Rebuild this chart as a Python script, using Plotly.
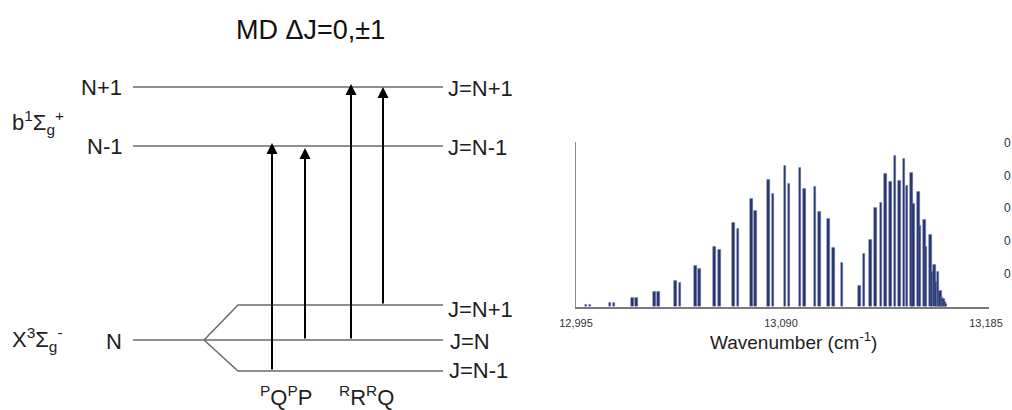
import plotly.graph_objects as go

# ---------------- spectrum data ----------------
# lower-frequency band: doublets (wavenumber cm-1, relative intensity)
p_band_pos_a = [12999.6, 13010.8, 13021.1, 13031.3, 13041.0, 13050.3, 13059.3,
                13068.1, 13076.2, 13084.3, 13091.9, 13098.8, 13105.8, 13112.1, 13118.3]
p_band_int_a = [0.07, 0.13, 0.27, 0.46, 0.78, 1.24, 1.82,
                2.56, 3.29, 3.87, 4.30, 4.26, 3.67, 2.68, 1.34]
p_band_pos_b = [13001.5, 13012.6, 13023.1, 13033.3, 13043.1, 13052.3, 13061.4,
                13070.1, 13078.3, 13086.3, 13093.7, 13101.0, 13107.9, 13114.4]
p_band_int_b = [0.07, 0.13, 0.27, 0.44, 0.73, 1.17, 1.73,
                2.37, 2.92, 3.45, 3.77, 3.59, 2.91, 1.79]

# higher-frequency band up to the band head
r_band_pos = [13126.5, 13128.5, 13131.6, 13133.7, 13136.3, 13138.3, 13140.7,
              13142.8, 13144.8, 13147.0, 13148.3, 13150.6, 13151.3, 13153.8,
              13154.4, 13156.6, 13157.2, 13159.2, 13160.0, 13161.1, 13161.9,
              13162.8, 13163.4, 13164.0, 13164.6, 13165.2, 13165.9, 13166.5]
r_band_int = [0.64, 1.63, 2.03, 3.01, 3.17, 4.07, 3.83,
              4.62, 3.85, 4.51, 3.70, 4.09, 3.14, 3.51,
              2.48, 2.67, 1.83, 2.20, 1.05, 1.28, 0.76,
              1.06, 0.46, 0.49, 0.28, 0.24, 0.15, 0.08]

x_tick_vals = [12995, 13090, 13185]
x_tick_text = ["12,995", "13,090", "13,185"]
right_tick_vals = [1, 2, 3, 4, 5]
right_tick_text = ["0", "0", "0", "0", "0"]

# ---------------- energy-level diagram (pixel-like units) ----------------
W, H = 1012, 410
LINE_X0, LINE_X1 = 133, 443
UPPER_LEVELS = [("N+1", "J=N+1", 87), ("N-1", "J=N-1", 146)]
LOWER_N_Y = 340
LOWER_PLUS_Y = 305
LOWER_MINUS_Y = 371
FORK_X, FORK_END_X = 204, 238
# transitions: (x, lower y, upper tip y)
transitions = [(272, LOWER_MINUS_Y, 143), (305, LOWER_N_Y, 148),
               (351, LOWER_N_Y, 84), (383, LOWER_PLUS_Y, 87)]

FONT = "Liberation Sans, Arial, Helvetica, sans-serif"
TXT = "#1e1e1e"
LEVEL_COLOR = "#6a6a6a"
BAR_COLOR = "#28366f"

fig = go.Figure()

all_pos = p_band_pos_a + p_band_pos_b + r_band_pos
all_int = p_band_int_a + p_band_int_b + r_band_int
fig.add_trace(go.Bar(
    x=all_pos, y=all_int, width=1.2,
    marker=dict(color=BAR_COLOR, line=dict(color="rgba(110,122,175,0.7)", width=0.6)),
    xaxis="x2", yaxis="y2", showlegend=False, hoverinfo="x+y",
))

shapes = []
for _, _, y in UPPER_LEVELS:
    shapes.append(dict(type="line", xref="x", yref="y", x0=LINE_X0, x1=LINE_X1,
                       y0=y, y1=y, line=dict(color=LEVEL_COLOR, width=1.5)))
shapes.append(dict(type="line", xref="x", yref="y", x0=LINE_X0, x1=LINE_X1,
                   y0=LOWER_N_Y, y1=LOWER_N_Y, line=dict(color=LEVEL_COLOR, width=1.5)))
for yb in (LOWER_PLUS_Y, LOWER_MINUS_Y):
    shapes.append(dict(type="path", xref="x", yref="y",
                       path=f"M {FORK_X},{LOWER_N_Y} L {FORK_END_X},{yb} L {LINE_X1},{yb}",
                       line=dict(color=LEVEL_COLOR, width=1.5)))

ann = []
for x, y0, y1 in transitions:
    ann.append(dict(x=x, y=y1, ax=x, ay=y0, xref="x", yref="y", axref="x", ayref="y",
                    text="", showarrow=True, arrowhead=2, arrowsize=1.1, arrowwidth=2,
                    arrowcolor="#000000", standoff=0, startstandoff=0))

def label(x, y, text, size=22, anchor="left", color=TXT):
    ann.append(dict(x=x, y=y, xref="x", yref="y", text=text, showarrow=False,
                    xanchor=anchor, yanchor="middle",
                    font=dict(family=FONT, size=size, color=color)))

label(310, 30, "MD ΔJ=0,±1", size=27, anchor="center", color="#111111")
for name, jname, y in UPPER_LEVELS:
    label(124, y, name, anchor="right")
    label(446, y + 1, jname)
label(124, 341, "N", anchor="right")
label(10, 122, "b<sup>1</sup>Σ<sub>g</sub><sup>+</sup>")
label(10, 339, "X<sup>3</sup>Σ<sub>g</sub><sup>-</sup>")
label(446, 309, "J=N+1")
label(448, 341, "J=N")
label(447, 370, "J=N-1")
label(286, 396, "<sup>P</sup>Q<sup>P</sup>P", anchor="center")
label(366, 396, "<sup>R</sup>R<sup>R</sup>Q", anchor="center")

# spectrum axis title and right-hand tick labels
ann.append(dict(x=793 / W, y=1 - 341 / H, xref="paper", yref="paper",
                text="Wavenumber (cm<sup>-1</sup>)", showarrow=False,
                xanchor="center", yanchor="middle",
                font=dict(family=FONT, size=19, color=TXT)))
for v, t in zip(right_tick_vals, right_tick_text):
    ann.append(dict(x=1002 / W, y=v, xref="paper", yref="y2", text=t,
                    showarrow=False, xanchor="left", yanchor="middle",
                    font=dict(family=FONT, size=12, color="#333333")))

x_lo, x_hi = 12995, 13186.5
px_per_unit = 205 / 95
x_left_px = 576
x_right_px = x_left_px + (x_hi - x_lo) * px_per_unit

fig.update_layout(
    width=W, height=H,
    margin=dict(l=0, r=0, t=0, b=0, autoexpand=False),
    paper_bgcolor="white", plot_bgcolor="white",
    shapes=shapes, annotations=ann, showlegend=False,
    xaxis=dict(domain=[0, 1], range=[0, W], visible=False, fixedrange=True),
    yaxis=dict(domain=[0, 1], range=[H, 0], visible=False, fixedrange=True),
    xaxis2=dict(domain=[x_left_px / W, x_right_px / W], range=[x_lo, x_hi],
                anchor="y2", showgrid=False, zeroline=False,
                showline=True, linecolor="#7a7a7a", linewidth=1.5,
                tickvals=x_tick_vals, ticktext=x_tick_text, ticks="",
                ticklabelstandoff=6,
                tickfont=dict(family=FONT, size=11, color="#333333")),
    yaxis2=dict(domain=[1 - 306.5 / H, 1 - 141.7 / H], range=[0, 5.04],
                anchor="x2", showgrid=False, zeroline=False,
                showline=True, linecolor="#8a8a8a", linewidth=1.2,
                showticklabels=False, ticks=""),
    bargap=0,
)

fig.write_html("out.html")
